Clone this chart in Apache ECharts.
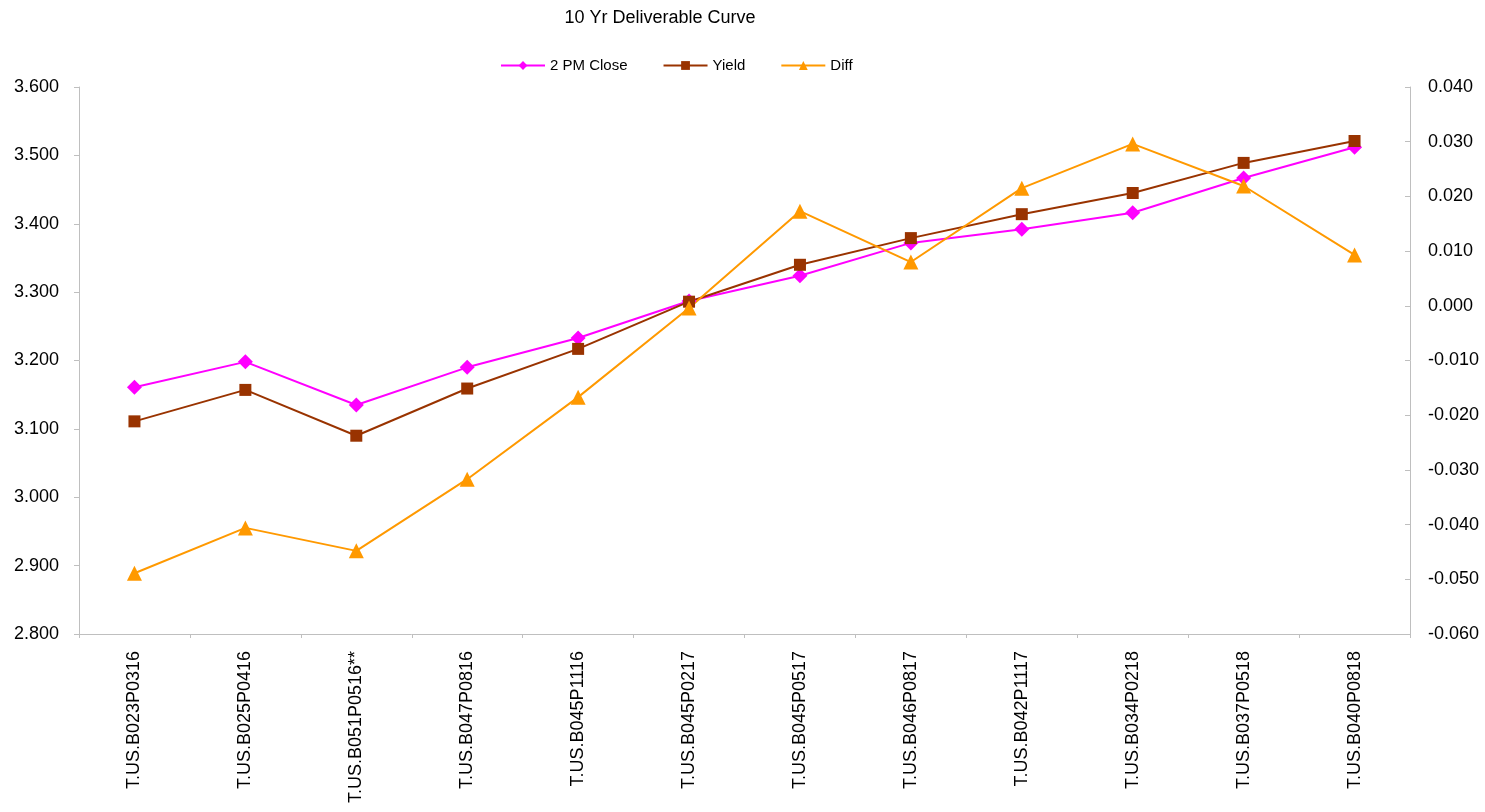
<!DOCTYPE html>
<html>
<head>
<meta charset="utf-8">
<script src="https://cdn.jsdelivr.net/npm/echarts@6/dist/echarts.min.js"></script>
<style>
  html, body { margin: 0; padding: 0; background: #fff; }
  #chart { width: 1485px; height: 812px; }
</style>
</head>
<body>
<div id="chart"></div>
<script>
var categories = ['T.US.B023P0316', 'T.US.B025P0416', 'T.US.B051P0516**', 'T.US.B047P0816',
  'T.US.B045P1116', 'T.US.B045P0217', 'T.US.B045P0517', 'T.US.B046P0817',
  'T.US.B042P1117', 'T.US.B034P0218', 'T.US.B037P0518', 'T.US.B040P0818'];
var closeValues = [3.161, 3.198, 3.135, 3.190, 3.233, 3.287, 3.324, 3.372, 3.392, 3.416, 3.467, 3.512];
var yieldValues = [3.111, 3.157, 3.090, 3.159, 3.217, 3.286, 3.340, 3.379, 3.414, 3.445, 3.489, 3.521];
var diffValues = [-0.0489, -0.0406, -0.0448, -0.0317, -0.0167, -0.0004, 0.0173, 0.0080, 0.0215, 0.0296, 0.0219, 0.0093];

var font = 'Liberation Sans, Arial, sans-serif';
var axisGrey = '#bfbfbf';

(function () {
  var myChart = echarts.init(document.getElementById('chart'));
  var option = {
    animation: false,
    textStyle: { fontFamily: font },
    title: {
      text: '10 Yr Deliverable Curve',
      left: 655, top: 4, textAlign: 'center',
      textStyle: { fontSize: 18, fontWeight: 'normal', color: '#000', fontFamily: font }
    },
    legend: {
      top: 58, left: 500, padding: 0,
      itemGap: 35, itemWidth: 44, itemHeight: 11,
      textStyle: { fontSize: 15, color: '#000', fontFamily: font },
      data: ['2 PM Close', 'Yield', 'Diff']
    },
    grid: { left: 79, right: 75, top: 87, bottom: 178 },
    xAxis: {
      type: 'category',
      data: categories,
      boundaryGap: true,
      axisLine: { onZero: false, lineStyle: { color: axisGrey } },
      axisTick: { show: true, length: 4, lineStyle: { color: axisGrey } },
      axisLabel: { rotate: 90, color: '#000', fontSize: 18, margin: 17, interval: 0, fontFamily: font }
    },
    yAxis: [
      {
        type: 'value', min: 2.8, max: 3.6, interval: 0.1,
        axisLine: { show: true, lineStyle: { color: axisGrey } },
        axisTick: { show: true, length: 5, lineStyle: { color: axisGrey } },
        splitLine: { show: false },
        axisLabel: { color: '#000', fontSize: 18, margin: 20, fontFamily: font,
          formatter: function (v) { return v.toFixed(3); } }
      },
      {
        type: 'value', min: -0.06, max: 0.04, interval: 0.01,
        position: 'right',
        axisLine: { show: true, lineStyle: { color: axisGrey } },
        axisTick: { show: true, inside: true, length: 5, lineStyle: { color: axisGrey } },
        splitLine: { show: false },
        axisLabel: { color: '#000', fontSize: 18, margin: 18, fontFamily: font,
          formatter: function (v) { return v.toFixed(3); } }
      }
    ],
    series: [
      {
        name: '2 PM Close', type: 'line', data: closeValues,
        symbol: 'diamond', symbolSize: 15, color: '#ff00ff',
        lineStyle: { width: 2 }
      },
      {
        name: 'Yield', type: 'line', data: yieldValues,
        symbol: 'rect', symbolSize: 12, color: '#993300',
        lineStyle: { width: 2 }
      },
      {
        name: 'Diff', type: 'line', data: diffValues, yAxisIndex: 1,
        symbol: 'triangle', symbolSize: 15, color: '#ff9900',
        lineStyle: { width: 2 }
      }
    ]
  };
  myChart.setOption(option);
})();
</script>
</body>
</html>
